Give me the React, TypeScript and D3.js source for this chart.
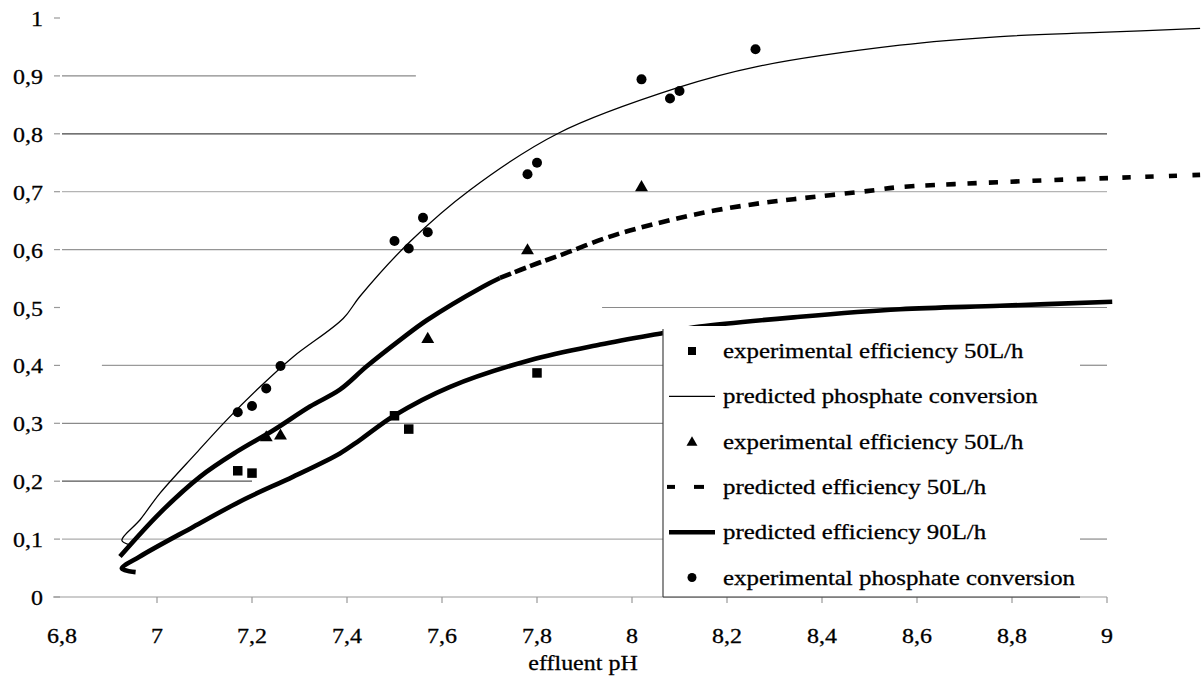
import React from "react";
import * as d3 from "d3";

// ---------- data ----------
const xTickValues = [6.8, 7, 7.2, 7.4, 7.6, 7.8, 8, 8.2, 8.4, 8.6, 8.8, 9];
const xTickLabels = ["6,8", "7", "7,2", "7,4", "7,6", "7,8", "8", "8,2", "8,4", "8,6", "8,8", "9"];
const yTickValues = [0, 0.1, 0.2, 0.3, 0.4, 0.5, 0.6, 0.7, 0.8, 0.9, 1];
const yTickLabels = ["0", "0,1", "0,2", "0,3", "0,4", "0,5", "0,6", "0,7", "0,8", "0,9", "1"];

// experimental efficiency 50L/h (squares)
const squareX = [7.17, 7.2, 7.5, 7.53, 7.8];
const squareY = [0.218, 0.214, 0.313, 0.29, 0.387];
// experimental efficiency 50L/h (triangles)
const triangleX = [7.23, 7.26, 7.57, 7.78, 8.02];
const triangleY = [0.277, 0.28, 0.447, 0.6, 0.709];
// experimental phosphate conversion (circles)
const circleX = [7.17, 7.2, 7.23, 7.26, 7.5, 7.53, 7.56, 7.57, 7.78, 7.8, 8.02, 8.08, 8.1, 8.26];
const circleY = [0.319, 0.33, 0.36, 0.399, 0.615, 0.602, 0.655, 0.63, 0.73, 0.75, 0.894, 0.861, 0.874, 0.946];

// predicted phosphate conversion (thin line)
const phosX = [6.943, 6.926, 6.964, 7.006, 7.083, 7.147, 7.217, 7.287, 7.392, 7.427, 7.533, 7.659, 7.845, 8.098, 8.263, 8.564, 8.775, 8.985, 9.196];
const phosY = [0.09, 0.098, 0.133, 0.179, 0.249, 0.306, 0.363, 0.415, 0.481, 0.519, 0.614, 0.703, 0.801, 0.88, 0.916, 0.953, 0.968, 0.975, 0.982];

// predicted efficiency 50L/h (dashed thick line)
const eff50X = [6.922, 7.006, 7.091, 7.168, 7.245, 7.322, 7.385, 7.441, 7.512, 7.568, 7.686, 7.722, 7.8, 7.848, 7.948, 8.018, 8.152, 8.269, 8.34, 8.494, 8.564, 8.704, 8.88, 9.055, 9.196];
const eff50Y = [0.07, 0.145, 0.208, 0.251, 0.288, 0.329, 0.358, 0.398, 0.444, 0.478, 0.536, 0.551, 0.576, 0.59, 0.621, 0.638, 0.664, 0.68, 0.687, 0.701, 0.708, 0.714, 0.72, 0.725, 0.729];
const eff50SolidUntil = 7.722;

// predicted efficiency 90L/h (solid thick line)
const eff90X = [6.955, 6.926, 6.964, 7.076, 7.182, 7.287, 7.385, 7.427, 7.499, 7.617, 7.785, 7.933, 8.066, 8.143, 8.354, 8.564, 8.775, 9.011];
const eff90Y = [0.043, 0.049, 0.07, 0.121, 0.168, 0.208, 0.248, 0.271, 0.313, 0.363, 0.409, 0.436, 0.456, 0.467, 0.484, 0.497, 0.503, 0.51];

const legendLabels = [
  "experimental efficiency 50L/h",
  "predicted phosphate conversion",
  "experimental efficiency 50L/h",
  "predicted efficiency 50L/h",
  "predicted efficiency 90L/h",
  "experimental phosphate conversion",
];

// ---------- layout ----------
const W = 1203;
const H = 679;
const FONT = "'Liberation Serif', 'Times New Roman', Times, serif";

const x = d3.scaleLinear().domain([6.8, 9]).range([62, 1107]);
const y = d3.scaleLinear().domain([0, 1]).range([597, 18]);

// visible gridline pieces [value, fromX, toX, colour]
const gridPieces: [number, number, number, string][] = [
  [0.9, 6.8, 7.545, "#8a8a8a"],
  [0.8, 6.8, 9, "#454545"],
  [0.7, 6.8, 9, "#b4b4b4"],
  [0.6, 6.8, 9, "#959595"],
  [0.5, 7.937, 9, "#8a8a8a"],
  [0.4, 6.884, 9, "#9a9a9a"],
  [0.3, 6.8, 8.1, "#8a8a8a"],
  [0.2, 6.8, 7.2, "#555555"],
  [0.1, 6.8, 9, "#ababab"],
];

function zip(xs: number[], ys: number[]): [number, number][] {
  return xs.map((v, i) => [v, ys[i]]);
}

const lineGen = d3
  .line<[number, number]>()
  .x((d) => x(d[0]))
  .y((d) => y(d[1]))
  .curve(d3.curveCatmullRom.alpha(0.5));

function SText(props: {
  x: number;
  y: number;
  sx: number;
  size: number;
  anchor?: string;
  children: React.ReactNode;
}) {
  return (
    <text
      transform={`translate(${props.x},${props.y}) scale(${props.sx},1)`}
      textAnchor={props.anchor || "start"}
      fontSize={props.size}
      style={{ fontFamily: FONT }}
      fill="#000"
      stroke="#000"
      strokeWidth={0.3}
    >
      {props.children}
    </text>
  );
}

export default function App() {
  const phos = zip(phosX, phosY);
  const eff50 = zip(eff50X, eff50Y);
  const eff50Solid = eff50.filter((d) => d[0] <= eff50SolidUntil);
  const eff50Dashed = eff50.filter((d) => d[0] >= eff50SolidUntil);
  const eff90 = zip(eff90X, eff90Y);

  // dash pattern whose gaps widen towards the right (as in the scanned figure)
  let len = 0;
  for (let i = 1; i < eff50Dashed.length; i++) {
    const dx = x(eff50Dashed[i][0]) - x(eff50Dashed[i - 1][0]);
    const dy = y(eff50Dashed[i][1]) - y(eff50Dashed[i - 1][1]);
    len += Math.hypot(dx, dy);
  }
  const dashes: number[] = [];
  let pos = 0;
  while (pos < len + 40) {
    const t = Math.min(1, pos / len);
    const dash = 12 - 4 * t;
    const gap = 4 + 12 * t;
    dashes.push(dash, gap);
    pos += dash + gap;
  }

  const triSym = d3.symbol(d3.symbolTriangle, 72)();
  const triSymLegend = d3.symbol(d3.symbolTriangle, 52)();

  const legX = 663;
  const legRight = 1080;
  const legTop = 326;
  const rowY = (i: number) => 351 + i * 45.3;
  const symX = 692;
  const textX = 723;

  return (
    <svg
      width={W}
      height={H}
      style={{ position: "absolute", left: 0, top: 0, background: "#fff" }}
    >
      <rect x={0} y={0} width={W} height={H} fill="#fff" />

      {/* gridlines */}
      {gridPieces.map(([v, a, b, c], i) => (
        <line key={"g" + i} x1={x(a)} x2={x(b)} y1={y(v)} y2={y(v)} stroke={c} strokeWidth={1.2} />
      ))}
      {/* x axis line */}
      <line x1={53} x2={x(9)} y1={y(0)} y2={y(0)} stroke="#9a9a9a" strokeWidth={1.2} />

      {/* y ticks + labels */}
      {yTickValues.map((v, i) => (
        <g key={"yt" + i}>
          <line x1={54} x2={60} y1={y(v)} y2={y(v)} stroke="#999" strokeWidth={1.2} />
          <SText x={43} y={y(v) + 8} sx={1.09} size={22} anchor="end">
            {yTickLabels[i]}
          </SText>
        </g>
      ))}

      {/* x ticks + labels */}
      {xTickValues.map((v, i) => (
        <g key={"xt" + i}>
          {i > 0 && (
            <line x1={x(v)} x2={x(v)} y1={y(0)} y2={y(0) + 6} stroke="#999" strokeWidth={1.2} />
          )}
          <SText x={x(v)} y={643} sx={1.09} size={22} anchor="middle">
            {xTickLabels[i]}
          </SText>
        </g>
      ))}
      <SText x={583} y={670} sx={1.09} size={22} anchor="middle">
        effluent pH
      </SText>

      {/* predicted curves */}
      <path d={lineGen(phos) || ""} fill="none" stroke="#000" strokeWidth={1.3} />
      <path d={lineGen(eff50Solid) || ""} fill="none" stroke="#000" strokeWidth={4.6} />
      <path
        d={lineGen(eff50Dashed) || ""}
        fill="none"
        stroke="#000"
        strokeWidth={4.6}
        strokeDasharray={dashes.join(",")}
      />
      <path d={lineGen(eff90) || ""} fill="none" stroke="#000" strokeWidth={4.6} />

      {/* experimental points */}
      {squareX.map((v, i) => (
        <rect key={"s" + i} x={x(v) - 4.75} y={y(squareY[i]) - 4.75} width={9.5} height={9.5} fill="#000" />
      ))}
      {triangleX.map((v, i) => (
        <path key={"t" + i} d={triSym || ""} transform={`translate(${x(v)},${y(triangleY[i]) + 1})`} fill="#000" />
      ))}
      {circleX.map((v, i) => (
        <circle key={"c" + i} cx={x(v)} cy={y(circleY[i])} r={5} fill="#000" />
      ))}

      {/* legend */}
      <rect x={legX} y={legTop} width={legRight - legX} height={y(0) - legTop} fill="#fff" />
      <line x1={legX} x2={legX} y1={legTop + 3} y2={y(0)} stroke="#444" strokeWidth={1.2} />
      <line x1={legX} x2={legRight} y1={y(0)} y2={y(0)} stroke="#333" strokeWidth={1.2} />
      {/* short gridline pieces right of legend */}
      <line x1={legRight} x2={x(9)} y1={y(0.4)} y2={y(0.4)} stroke="#9a9a9a" strokeWidth={1.2} />
      <line x1={legRight} x2={x(9)} y1={y(0.1)} y2={y(0.1)} stroke="#ababab" strokeWidth={1.2} />

      <rect x={symX - 4} y={rowY(0) - 4} width={8} height={8} fill="#000" />
      <line x1={669} x2={715} y1={rowY(1)} y2={rowY(1)} stroke="#000" strokeWidth={1.3} />
      <path d={triSymLegend || ""} transform={`translate(${symX},${rowY(2) + 1})`} fill="#000" />
      <line x1={667} x2={675} y1={rowY(3)} y2={rowY(3)} stroke="#000" strokeWidth={4} />
      <line x1={694} x2={704} y1={rowY(3)} y2={rowY(3)} stroke="#000" strokeWidth={4} />
      <line x1={669} x2={715} y1={rowY(4)} y2={rowY(4)} stroke="#000" strokeWidth={4.6} />
      <circle cx={symX} cy={rowY(5)} r={4.5} fill="#000" />

      {legendLabels.map((t, i) => (
        <SText key={"l" + i} x={textX} y={rowY(i) + 7} sx={1.13} size={22}>
          {t}
        </SText>
      ))}
    </svg>
  );
}
